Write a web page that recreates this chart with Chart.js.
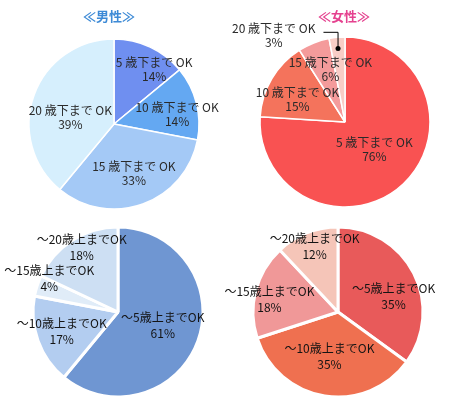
<!DOCTYPE html>
<html lang="ja">
<head>
<meta charset="utf-8">
<script src="https://cdn.jsdelivr.net/npm/chart.js@4.4.1/dist/chart.umd.min.js"></script>
<style>
    html, body { margin: 0; padding: 0; background: #fff; }
    #wrap { position: relative; width: 455px; height: 413px; overflow: hidden; }
    #wrap canvas { position: absolute; left: 0; top: 0; }
    .ttl {
        position: absolute; top: 6px; width: 80px; text-align: center;
        font: bold 13px "Noto Sans CJK JP", sans-serif; line-height: 20px;
    }
</style>
</head>
<body>
<div id="wrap">
    <canvas id="c1" width="455" height="413"></canvas>
    <canvas id="c2" width="455" height="413"></canvas>
    <canvas id="c3" width="455" height="413"></canvas>
    <canvas id="c4" width="455" height="413"></canvas>
    <div class="ttl" style="left:69px;color:#3d8ad6;">≪男性≫</div>
    <div class="ttl" style="left:304px;color:#e5418f;">≪女性≫</div>
</div>
<script>
// categories
const youngerLabels = ['5 歳下まで OK', '10 歳下まで OK', '15 歳下まで OK', '20 歳下まで OK'];
const olderLabels = ['〜5歳上までOK', '〜10歳上までOK', '〜15歳上までOK', '〜20歳上までOK'];

// values (%)
const menYounger = [14, 14, 33, 39];
const womenYounger = [76, 15, 6, 3];
const menOlder = [61, 17, 4, 18];
const womenOlder = [35, 35, 18, 12];

const W = 455, H = 413;

// padding so that the chart area is centred on (cx, cy)
function centerPad(cx, cy) {
    return {
        left: cx < W / 2 ? 0 : 2 * cx - W,
        right: cx < W / 2 ? W - 2 * cx : 0,
        top: cy < H / 2 ? 0 : 2 * cy - H,
        bottom: cy < H / 2 ? H - 2 * cy : 0
    };
}

// draws "label / xx%" inside (or outside) each slice
const sliceLabels = {
    id: 'sliceLabels',
    afterDatasetsDraw(chart, args, opts) {
        const ctx = chart.ctx;
        const meta = chart.getDatasetMeta(0);
        const values = chart.data.datasets[0].data;
        ctx.save();
        ctx.font = opts.font;
        ctx.fillStyle = opts.color;
        ctx.textAlign = 'center';
        ctx.textBaseline = 'middle';
        meta.data.forEach((arc, i) => {
            const p = arc.getProps(['x', 'y', 'startAngle', 'endAngle', 'outerRadius'], true);
            const place = opts.place[i];
            const mid = (p.startAngle + p.endAngle) / 2;
            const a = mid + place.da * Math.PI / 180;
            const lx = p.x + Math.cos(a) * p.outerRadius * place.r;
            const ly = p.y + Math.sin(a) * p.outerRadius * place.r;
            const line1 = chart.data.labels[i];
            const line2 = values[i] + '%';
            const y1 = ly - opts.lineHeight / 2;
            const y2 = ly + opts.lineHeight / 2;
            ctx.fillStyle = opts.color;
            ctx.fillText(line1, lx, y1);
            ctx.fillText(line2, lx, y2);
            if (place.leader) {
                const dx = p.x + Math.cos(mid) * p.outerRadius * 0.87;
                const dy = p.y + Math.sin(mid) * p.outerRadius * 0.87;
                const w = ctx.measureText(line1).width;
                const sx = lx + w / 2 + 8;
                const sy = y1 + 4;
                ctx.strokeStyle = '#000';
                ctx.lineWidth = 1;
                ctx.beginPath();
                ctx.moveTo(sx, sy);
                ctx.lineTo(dx, sy);
                ctx.lineTo(dx, dy);
                ctx.stroke();
                ctx.fillStyle = '#000';
                ctx.beginPath();
                ctx.arc(dx, dy, 2.5, 0, Math.PI * 2);
                ctx.fill();
            }
        });
        ctx.restore();
    }
};

function makePie(id, labels, values, colors, center, border, place, labelOpts) {
    return new Chart(document.getElementById(id), {
        type: 'pie',
        data: {
            labels: labels,
            datasets: [{
                data: values,
                backgroundColor: colors,
                borderColor: '#ffffff',
                borderWidth: border
            }]
        },
        options: {
            responsive: false,
            animation: false,
            radius: 85,
            layout: { padding: centerPad(center[0], center[1]) },
            plugins: {
                legend: { display: false },
                tooltip: { enabled: false },
                sliceLabels: Object.assign({ place: place }, labelOpts)
            }
        },
        plugins: [sliceLabels]
    });
}

const topText = { font: '12px "Noto Sans CJK JP", sans-serif', color: '#2a2a2a', lineHeight: 14 };
const bottomText = { font: '12px "Noto Sans CJK JP", sans-serif', color: '#141414', lineHeight: 16 };

makePie('c1', youngerLabels, menYounger,
    ['#6f8ff0', '#64a8f2', '#a4c9f6', '#d6effd'],
    [114, 124], 1.5,
    [{ r: 0.80, da: 11 }, { r: 0.75, da: 6 }, { r: 0.63, da: -2 }, { r: 0.52, da: -11 }],
    topText);

makePie('c2', youngerLabels, womenYounger,
    ['#f95252', '#f4735c', '#f49b9b', '#f8cdc6'],
    [345, 122], 1.5,
    [{ r: 0.47, da: -4 }, { r: 0.62, da: -5 }, { r: 0.64, da: 6 }, { r: 1.32, da: -34, leader: true }],
    topText);

makePie('c3', olderLabels, menOlder,
    ['#6f96d2', '#b3cdf0', '#e0ecf8', '#cddff3'],
    [118, 312], 3,
    [{ r: 0.55, da: -3 }, { r: 0.70, da: 1 }, { r: 0.90, da: 8 }, { r: 0.87, da: 3 }],
    bottomText);

makePie('c4', olderLabels, womenOlder,
    ['#e85a5a', '#ef7050', '#f09898', '#f5c5b8'],
    [338, 312], 3,
    [{ r: 0.68, da: 11 }, { r: 0.53, da: 2 }, { r: 0.82, da: -4 }, { r: 0.82, da: 2 }],
    bottomText);
</script>
</body>
</html>
